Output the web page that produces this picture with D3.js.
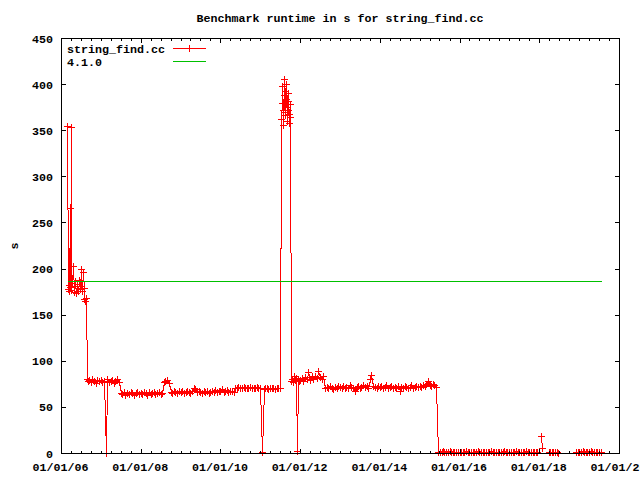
<!DOCTYPE html>
<html><head><meta charset="utf-8">
<script src="https://cdn.jsdelivr.net/npm/d3@7"></script>
<style>body{margin:0;background:#fff}svg{display:block}</style>
</head><body>
<svg id="chart" width="640" height="480"></svg>
<script>
const chartTitle = "Benchmark runtime in s for string_find.cc";
const yAxisLabel = "s";
const seriesNames = ["string_find.cc", "4.1.0"];
const referenceRuntime = [186.5];
const yTickValues = [0, 50, 100, 150, 200, 250, 300, 350, 400, 450];
const xDomain = ["2006-01-01", "2020-01-01"];
const xTickDates = ["2006-01-01","2008-01-01","2010-01-01","2012-01-01","2014-01-01","2016-01-01","2018-01-01","2020-01-01"];
const xTickLabels = ["01/01/06","01/01/08","01/01/10","01/01/12","01/01/14","01/01/16","01/01/18","01/01/20"];

const runDates = [
"2006-03-01","2006-03-06","2006-03-11","2006-03-16","2006-03-21","2006-03-26","2006-03-31","2006-04-06","2006-04-13","2006-04-20","2006-04-27","2006-05-04","2006-05-11","2006-05-18","2006-05-25","2006-06-01","2006-06-08","2006-06-15","2006-06-22","2006-06-29","2006-07-06","2006-07-13","2006-07-20","2006-07-27","2006-08-03","2006-08-10","2006-08-17","2006-08-24","2006-09-01","2006-09-15","2006-10-01","2006-10-15","2006-11-01","2006-11-15","2006-12-01","2006-12-15",
"2007-01-01","2007-01-15","2007-02-01","2007-02-15","2007-03-01","2007-03-15","2007-04-01","2007-04-15","2007-05-01","2007-05-15","2007-06-01","2007-06-15","2007-07-01","2007-07-15","2007-08-01","2007-08-15","2007-09-01","2007-09-15","2007-10-01","2007-10-15","2007-11-01","2007-11-15","2007-12-01","2007-12-15",
"2008-01-01","2008-01-15","2008-02-01","2008-02-15","2008-03-01","2008-03-15","2008-04-01","2008-04-15","2008-05-01","2008-05-15","2008-06-01","2008-06-15","2008-07-01","2008-07-15","2008-08-01","2008-08-15","2008-09-01","2008-09-15","2008-10-01","2008-10-15","2008-11-01","2008-11-15","2008-12-01","2008-12-15",
"2009-01-01","2009-01-15","2009-02-01","2009-02-15","2009-03-01","2009-03-15","2009-04-01","2009-04-15","2009-05-01","2009-05-15","2009-06-01","2009-06-15","2009-07-01","2009-07-15","2009-08-01","2009-08-15","2009-09-01","2009-09-15","2009-10-01","2009-10-15","2009-11-01","2009-11-15","2009-12-01","2009-12-15",
"2010-01-01","2010-01-15","2010-02-01","2010-02-15","2010-03-01","2010-03-15","2010-04-01","2010-04-15","2010-05-01","2010-05-15","2010-06-01","2010-06-15","2010-07-01","2010-07-15","2010-08-01","2010-08-15","2010-09-01","2010-09-15","2010-10-01","2010-10-15","2010-11-01","2010-11-15","2010-12-01","2010-12-15",
"2011-01-01","2011-01-15","2011-02-01","2011-02-15","2011-03-01","2011-03-15","2011-04-01","2011-04-15","2011-05-01","2011-05-15","2011-06-01","2011-06-15","2011-07-01",
"2011-07-14","2011-07-18","2011-07-22","2011-07-26","2011-07-30","2011-08-03","2011-08-07","2011-08-11","2011-08-15","2011-08-19","2011-08-23","2011-08-27","2011-08-31","2011-09-04","2011-09-08","2011-09-12","2011-09-16","2011-09-20","2011-09-24","2011-09-28","2011-10-02",
"2011-10-06","2011-10-15","2011-10-25","2011-11-05","2011-11-15","2011-11-25","2011-12-05","2011-12-15","2011-12-25",
"2012-01-01","2012-01-15","2012-02-01","2012-02-15","2012-03-01","2012-03-15","2012-04-01","2012-04-15","2012-05-01","2012-05-15","2012-06-01","2012-06-15","2012-07-01","2012-07-15","2012-08-01","2012-08-15","2012-09-01","2012-09-15","2012-10-01","2012-10-15","2012-11-01","2012-11-15","2012-12-01","2012-12-15",
"2013-01-01","2013-01-15","2013-02-01","2013-02-15","2013-03-01","2013-03-15","2013-04-01","2013-04-15","2013-05-01","2013-05-15","2013-06-01","2013-06-15","2013-07-01","2013-07-15","2013-08-01","2013-08-15","2013-09-01","2013-09-15","2013-10-01","2013-10-15","2013-11-01","2013-11-15","2013-12-01","2013-12-15",
"2014-01-01","2014-01-15","2014-02-01","2014-02-15","2014-03-01","2014-03-15","2014-04-01","2014-04-15","2014-05-01","2014-05-15","2014-06-01","2014-06-15","2014-07-01","2014-07-15","2014-08-01","2014-08-15","2014-09-01","2014-09-15","2014-10-01","2014-10-15","2014-11-01","2014-11-15","2014-12-01","2014-12-15",
"2015-01-01","2015-01-15","2015-02-01","2015-02-15","2015-03-01","2015-03-15","2015-04-01","2015-04-15","2015-05-01","2015-05-15","2015-06-01","2015-06-20","2015-07-05","2015-07-20","2015-08-01","2015-08-15","2015-09-01","2015-09-15","2015-10-01","2015-10-15","2015-11-01","2015-11-15","2015-12-01","2015-12-15",
"2016-01-01","2016-01-15","2016-02-01","2016-02-15","2016-03-01","2016-03-15","2016-04-01","2016-04-15","2016-05-01","2016-05-15","2016-06-01","2016-06-15","2016-07-01","2016-07-15","2016-08-01","2016-08-15","2016-09-01","2016-09-15","2016-10-01","2016-10-15","2016-11-01","2016-11-15","2016-12-01","2016-12-15",
"2017-01-01","2017-01-15","2017-02-01","2017-02-15","2017-03-01","2017-03-15","2017-04-01","2017-04-15","2017-05-01","2017-05-15","2017-06-01","2017-06-15","2017-07-01","2017-07-15","2017-08-01","2017-08-15","2017-09-01","2017-09-15","2017-10-01","2017-10-15","2017-11-01","2017-11-15","2017-12-01","2017-12-15",
"2018-01-05","2018-01-19","2018-01-25","2018-02-10","2018-03-27","2018-04-10","2018-04-25","2018-05-10","2018-05-25","2018-06-13","2018-06-25","2018-07-20","2018-12-05","2018-12-20",
"2019-01-01","2019-01-15","2019-02-01","2019-02-15","2019-03-01","2019-03-15","2019-04-01","2019-04-15","2019-05-01","2019-05-15","2019-06-01","2019-06-15","2019-07-01","2019-07-22"
];

const runSeconds = [
355,178,182,176,266,180,353,177,184,203,175,181,186,174,179,183,176,188,178,200,181,176,196,179,167,165,168,80,78,79,77,80,78,76,79,78,
79,77,78,0,80,77,78,79,76,78,80,77,65,64,66,63,65,64,66,65,63,65,66,64,
65,64,66,65,63,66,64,65,66,64,65,66,64,65,77,78,79,76,66,65,67,66,65,67,
66,67,65,66,67,66,65,67,70,69,66,67,66,65,67,66,67,65,66,67,66,68,66,67,
67,69,66,67,68,66,67,67,66,71,70,72,71,70,72,71,70,71,72,70,71,70,72,71,
70,1,69,70,71,69,70,71,70,69,71,70,70,
362,380,398,372,356,388,405,370,392,366,384,400,375,360,390,372,382,358,368,378,364,
78,80,77,83,79,81,2,80,78,
79,81,78,82,80,88,79,83,80,84,81,89,82,80,83,71,72,70,73,71,69,72,71,73,
72,71,73,70,72,71,74,72,71,67,72,73,71,72,74,72,73,71,80,85,73,72,71,73,
72,73,71,72,74,71,72,73,71,72,70,73,67,72,71,73,72,71,72,74,71,72,73,72,
73,72,74,73,75,78,74,73,75,74,72,1,1.5,0.8,1.7,1,1.4,0.9,1.8,1.2,1.6,0.9,1.3,1.1,
1.2,0.8,1.5,1.0,1.8,0.9,1.3,1.6,1.1,0.7,1.4,1.9,1.0,1.3,0.8,1.6,1.2,1.5,0.9,1.7,1.1,1.4,1.0,1.3,
1.5,0.9,1.2,1.7,1.0,1.3,0.8,1.6,1.1,1.4,1.9,1.0,1.2,0.8,1.5,1.3,1.7,0.9,1.1,1.4,1.0,1.6,1.2,0.9,
null,18,5,null,1.3,0.9,1.5,1.1,1.6,1.0,0.5,null,1.2,0.8,
1.4,1.0,1.7,1.2,0.9,1.5,1.1,1.8,1.0,1.3,0.8,1.6,1.2,1.0
];

const parse = d3.utcParse("%Y-%m-%d");
const n = Math.min(runDates.length, runSeconds.length);
const runs = d3.range(n).map(i => ({date: parse(runDates[i]), v: runSeconds[i]}));

const svg = d3.select("#chart").attr("shape-rendering", "crispEdges");
const font = "'Liberation Mono', 'DejaVu Sans Mono', monospace";
const fs = "11.67px";

const x = d3.scaleUtc().domain(xDomain.map(parse)).range([61.5, 619.5]);
const y = d3.scaleLinear().domain([0, 450]).range([453.5, 38.5]);
const px = v => Math.floor(x(v)) + 0.5;
const py = v => Math.floor(y(v)) + 0.5;

const plot = svg.append("g");

// data line
const line = d3.line().defined(d => d.v != null).x(d => px(d.date)).y(d => py(d.v));
plot.append("path").datum(runs).attr("d", line)
  .attr("fill", "none").attr("stroke", "#ff0000").attr("stroke-width", 1);

// markers (+)
const plus = (cx, cy) => `M${cx-3.5},${cy}H${cx+3.5}M${cx},${cy-3.5}V${cy+3.5}`;
plot.append("path")
  .attr("d", runs.filter(d => d.v != null).map(d => plus(px(d.date), py(d.v))).join(""))
  .attr("fill", "none").attr("stroke", "#ff0000").attr("stroke-width", 1);

// reference line 4.1.0
const ext = d3.extent(runs, d => d.date);
plot.append("line")
  .attr("x1", px(ext[0])).attr("x2", px(ext[1]))
  .attr("y1", py(referenceRuntime[0])).attr("y2", py(referenceRuntime[0]))
  .attr("stroke", "#00c000").attr("stroke-width", 1);

// border
const axes = svg.append("g").attr("stroke", "#000").attr("stroke-width", 1);
axes.append("rect").attr("x", 61.5).attr("y", 38.5).attr("width", 558).attr("height", 415)
  .attr("fill", "none");

// y ticks
yTickValues.forEach(v => {
  const yy = py(v);
  axes.append("line").attr("x1", 61).attr("x2", 66).attr("y1", yy).attr("y2", yy);
  axes.append("line").attr("x1", 615).attr("x2", 620).attr("y1", yy).attr("y2", yy);
});

// x ticks
const majors = xTickDates.map(parse);
const majorSet = new Set(majors.map(d => +d));
const minors = d3.utcMonth.every(3).range(x.domain()[0], x.domain()[1]).filter(d => !majorSet.has(+d));
majors.forEach(d => {
  const xx = px(d);
  axes.append("line").attr("x1", xx).attr("x2", xx).attr("y1", 449).attr("y2", 454);
  axes.append("line").attr("x1", xx).attr("x2", xx).attr("y1", 38).attr("y2", 43);
});
minors.forEach(d => {
  const xx = px(d);
  axes.append("line").attr("x1", xx).attr("x2", xx).attr("y1", 451).attr("y2", 454);
  axes.append("line").attr("x1", xx).attr("x2", xx).attr("y1", 38).attr("y2", 41);
});

const txt = svg.append("g").attr("font-family", font).attr("font-size", fs)
  .attr("font-weight", "bold").attr("fill", "#000");

// y tick labels
yTickValues.forEach(v => {
  txt.append("text").attr("x", 53).attr("y", y(v) + 4).attr("text-anchor", "end").text(v);
});
// x tick labels
majors.forEach((d, i) => {
  txt.append("text").attr("x", x(d) - 1).attr("y", 471).attr("text-anchor", "middle").text(xTickLabels[i]);
});

// title
txt.append("text").attr("x", 340).attr("y", 22).attr("text-anchor", "middle").text(chartTitle);
// y label
txt.append("text").attr("transform", "translate(18,246) rotate(-90)")
  .attr("text-anchor", "middle").text(yAxisLabel);

// legend
txt.append("text").attr("x", 67).attr("y", 52.5).text(seriesNames[0]);
txt.append("text").attr("x", 67).attr("y", 66).text(seriesNames[1]);
svg.append("path").attr("d", `M173,48.5H206` + plus(189.5, 48.5))
  .attr("stroke", "#ff0000").attr("fill", "none");
svg.append("path").attr("d", `M173,61.5H206`)
  .attr("stroke", "#00c000").attr("fill", "none");
</script>
</body></html>
